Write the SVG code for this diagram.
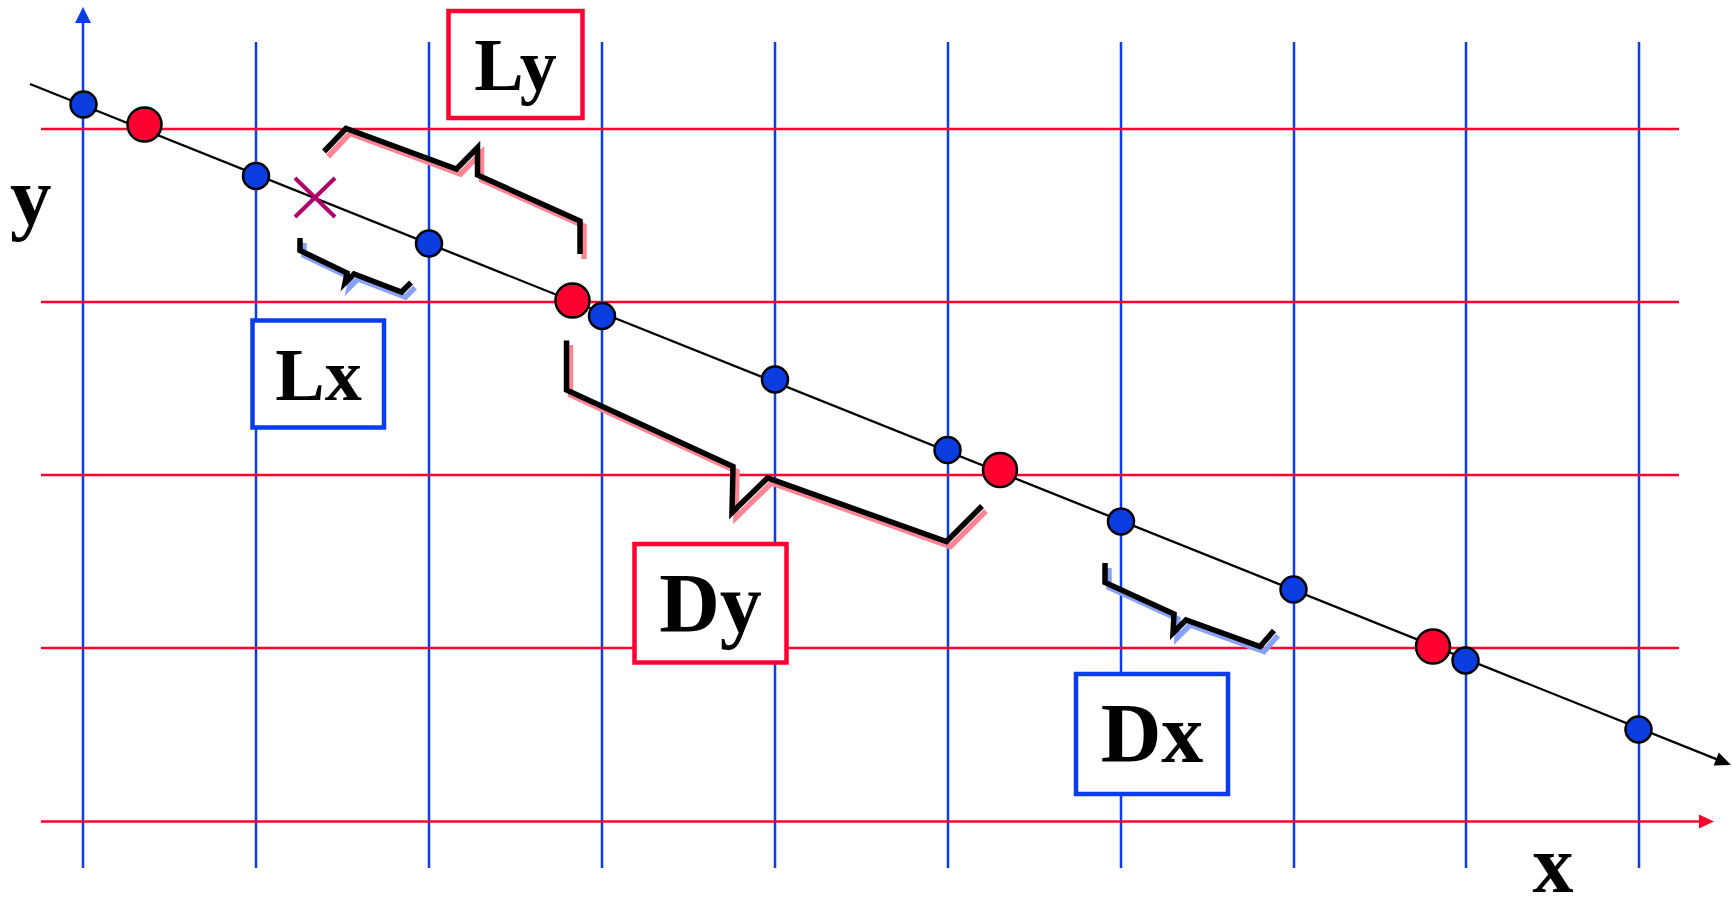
<svg xmlns="http://www.w3.org/2000/svg" width="1732" height="900" viewBox="0 0 1732 900">
<style>
.vg{stroke:#0a3cf0;stroke-width:2.5;fill:none}
.hg{stroke:#ff0030;stroke-width:2.5;fill:none}
.bd{fill:#0a3ce0;stroke:#000;stroke-width:2.5}
.rd{fill:#ff0030;stroke:#000;stroke-width:2.5}
.br{fill:none;stroke:#000;stroke-width:5.5;stroke-linejoin:miter;stroke-linecap:butt}
.shp{fill:none;stroke:#ff8494;stroke-width:5.5}
.shb{fill:none;stroke:#8aa2f5;stroke-width:5.5}
.lbl{font-family:"Liberation Serif","Times New Roman",serif;font-weight:bold;fill:#000}
.rbox{fill:#fff;stroke:#ff0030;stroke-width:4.5}
.bbox{fill:#fff;stroke:#0a3cf0;stroke-width:4.5}
</style>
<rect width="1732" height="900" fill="#fff"/>
<g id="grid">
<line class="vg" x1="83" y1="20" x2="83" y2="868"/>
<polygon points="83,7 75,23 91,23" fill="#0a3cf0"/>
<line class="vg" x1="256" y1="42" x2="256" y2="868"/>
<line class="vg" x1="429" y1="42" x2="429" y2="868"/>
<line class="vg" x1="602" y1="42" x2="602" y2="868"/>
<line class="vg" x1="775" y1="42" x2="775" y2="868"/>
<line class="vg" x1="948" y1="42" x2="948" y2="868"/>
<line class="vg" x1="1121" y1="42" x2="1121" y2="868"/>
<line class="vg" x1="1294" y1="42" x2="1294" y2="868"/>
<line class="vg" x1="1466" y1="42" x2="1466" y2="868"/>
<line class="vg" x1="1639" y1="42" x2="1639" y2="868"/>
<line class="hg" x1="41" y1="129" x2="1679" y2="129"/>
<line class="hg" x1="41" y1="302" x2="1679" y2="302"/>
<line class="hg" x1="41" y1="475" x2="1679" y2="475"/>
<line class="hg" x1="41" y1="648" x2="1679" y2="648"/>
<line class="hg" x1="41" y1="821.5" x2="1701" y2="821.5"/>
<polygon points="1714,821.5 1699,814.5 1699,828.5" fill="#ff0030"/>
</g>
<g id="axis-labels">
<text class="lbl" x="10" y="224" font-size="83">y</text>
<text class="lbl" x="1553" y="892" font-size="82" text-anchor="middle">x</text>
</g>
<g id="connectors">
<line x1="30" y1="84" x2="1717" y2="759.4" stroke="#000" stroke-width="2.3"/>
<polygon points="1731,765 1713.6,765.5 1718.8,752.5" fill="#000"/>
</g>
<g id="braces">
<polyline class="shp" points="328,156.5 350,133.5 460.5,174 481.5,152.5 481.5,180 584,226 584,259"/>
<polyline class="br" points="324,151.5 346,128.5 456.5,169 477.5,147.5 477.5,175 580,221 580,254"/>
<polyline class="shb" points="304,243 304,255.5 351,278 349,288 358,279 405.5,297 415,287.5"/>
<polyline class="br" points="300,238 300,250.5 347,273 345,283 354,274 401.5,292 411,282.5"/>
<polyline class="shp" points="570.5,345 570.5,395 737,471.5 736,517.5 771.5,483 950.5,546.5 986,511"/>
<polyline class="br" points="566.5,340.5 566.5,390 733,466.5 732,512.5 767.5,478 946.5,541.5 982,506"/>
<polyline class="shb" points="1109,568 1109,587.5 1178,619 1177,638 1190,625 1264,651.5 1278,635.5"/>
<polyline class="br" points="1105,563 1105,582.5 1174,614 1173,633 1186,620 1260,646.5 1274,630.5"/>
</g>
<g id="cross">
<line x1="295" y1="178" x2="335" y2="217" stroke="#b0006a" stroke-width="4"/>
<line x1="295" y1="217" x2="335" y2="178" stroke="#b0006a" stroke-width="4"/>
</g>
<g id="dots">
<circle class="bd" cx="83.5" cy="104.5" r="13"/>
<circle class="rd" cx="144.5" cy="124.5" r="17"/>
<circle class="bd" cx="256" cy="176" r="13"/>
<circle class="bd" cx="429" cy="243.5" r="13"/>
<circle class="rd" cx="572.5" cy="300.5" r="17"/>
<circle class="bd" cx="602" cy="316" r="13"/>
<circle class="bd" cx="775" cy="379.5" r="13"/>
<circle class="bd" cx="947.5" cy="450" r="13"/>
<circle class="rd" cx="1000" cy="470" r="17"/>
<circle class="bd" cx="1121" cy="521.5" r="13"/>
<circle class="bd" cx="1293.5" cy="589.5" r="13"/>
<circle class="rd" cx="1433" cy="646.5" r="17"/>
<circle class="bd" cx="1465.5" cy="660.5" r="13"/>
<circle class="bd" cx="1638.5" cy="729.5" r="13"/>
</g>
<g id="node-Ly">
<rect class="rbox" x="448.5" y="11" width="134" height="107"/>
<text class="lbl" x="515.5" y="90" font-size="74" text-anchor="middle">Ly</text>
</g>
<g id="node-Lx">
<rect class="bbox" x="252.5" y="320.5" width="131.5" height="107"/>
<text class="lbl" x="318.5" y="400" font-size="74" text-anchor="middle">Lx</text>
</g>
<g id="node-Dy">
<rect class="rbox" x="634.5" y="544" width="152" height="118.5"/>
<text class="lbl" x="710.5" y="632" font-size="84" text-anchor="middle">Dy</text>
</g>
<g id="node-Dx">
<rect class="bbox" x="1076" y="674" width="152" height="120"/>
<text class="lbl" x="1152" y="762" font-size="84" text-anchor="middle">Dx</text>
</g>
</svg>
